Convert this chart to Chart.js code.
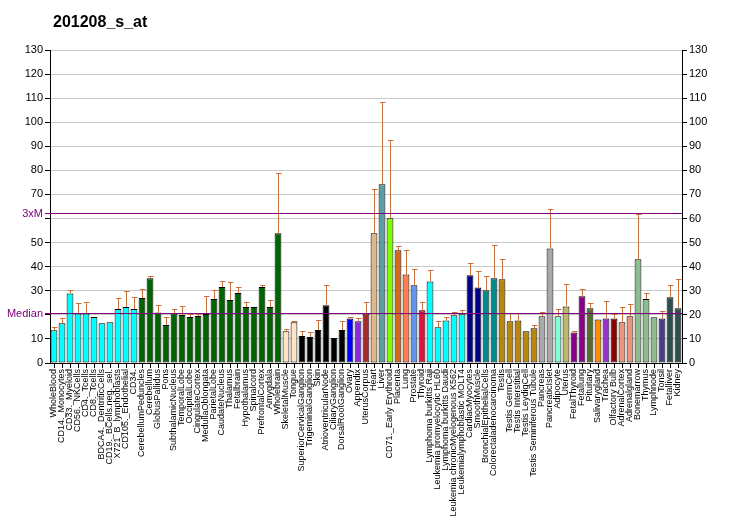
<!DOCTYPE html>
<html>
<head>
<meta charset="utf-8">
<script src="https://cdn.jsdelivr.net/npm/chart.js@4/dist/chart.umd.min.js"></script>
<style>
  body { margin: 0; background: #fff; }
  #wrap { width: 732px; height: 530px; }
</style>
</head>
<body>
<div id="wrap"><canvas id="grafik" width="732" height="530"></canvas></div>
<script>
// podaci sa slike
const naslov = '201208_s_at';

const kategorije = [
  'WholeBlood', 'CD14._Monocytes', 'CD33._Myeloid', 'CD56._NKCells', 'CD4._Tcells', 'CD8._Tcells',
  'BDCA4._DentriticCells', 'CD19._BCells.neg._sel.', 'X721_B_lymphoblasts', 'CD105._Endothelial', 'CD34.',
  'CerebellumPeduncles', 'Cerebellum', 'GlobusPallidus', 'Pons', 'SubthalamicNucleus', 'TemporalLobe',
  'OccipitalLobe', 'CingulateCortex', 'MedullaOblongata', 'ParietalLobe', 'CaudateNucleus', 'Thalamus',
  'Fetalbrain', 'Hypothalamus', 'Spinalcord', 'PrefrontalCortex', 'Amygdala', 'Wholebrain',
  'SkeletalMuscle', 'Tongue', 'SuperiorCervicalGanglion', 'TrigeminalGanglion', 'Skin',
  'AtrioventricularNode', 'CiliaryGanglion', 'DorsalRootGanglion', 'Ovary', 'Appendix', 'UterusCorpus',
  'Heart', 'Liver', 'CD71._Early Erythroid', 'Placenta', 'Lung', 'Prostate', 'Thyroid',
  'Lymphoma burkitts Raji', 'Leukemia promyelocytic HL60', 'Lymphoma burkitts Daudi',
  'Leukemia chronicMyelogenous K562', 'Leukemialymphoblastic MOLT4', 'CardiacMyocytes', 'SmoothMuscle',
  'BronchialEpithelialCells', 'Colorectaladenocarcinoma', 'Testis', 'Testis GermCell', 'Testis Interstitial',
  'Testis LeydigCell', 'Testis Seminiferous Tubule', 'Pancreas', 'PancreaticIslet', 'Adipocyte', 'Uterus',
  'FetalThyroid', 'Fetallung', 'Pituitary', 'Salivarygland', 'Trachea', 'Olfactory Bulb', 'AdrenalCortex',
  'Adrenalgland', 'Bonemarrow', 'Thymus', 'Lymphnode', 'Tonsil', 'Fetalliver', 'Kidney'
];

const vrednosti = [
  13.6, 16.5, 28.9, 20.6, 20.6, 19.1, 16.5, 16.9, 22.4, 23.3, 22.4,
  27.0, 35.2, 21.0, 15.8, 20.6, 19.9, 19.1, 19.5, 20.3, 26.6, 31.6, 26.2, 29.1, 23.3, 23.3, 31.6, 23.3, 53.9,
  13.2, 16.9, 11.2, 10.8, 13.7, 24.0, 10.4, 13.7, 18.5, 17.3, 20.6,
  53.9, 74.2, 60.1, 46.8, 36.8, 32.3, 21.9,
  33.9, 14.8, 17.7, 19.8, 20.2, 36.4, 31.4, 30.2, 35.2,
  34.8, 17.3, 17.7, 13.2, 14.4, 19.4, 47.6, 19.4, 23.5,
  12.7, 27.7, 22.7, 18.1, 18.5, 18.5, 16.9, 19.4, 43.1, 26.6, 19.0, 18.5, 27.3, 22.7
];

// gornji kraj greske (vrednost + sd)
const greskaGore = [
  15.0, 18.5, 30.2, 24.8, 25.2, 19.5, 16.7, 17.1, 26.9, 29.8, 27.3,
  30.6, 36.0, 24.0, 19.0, 22.3, 23.5, 20.3, 20.3, 27.7, 30.2, 33.9, 33.5, 31.4, 25.2, 23.5, 32.3, 26.0, 78.9,
  14.0, 17.3, 13.2, 12.7, 17.7, 32.3, 10.8, 17.3, 19.3, 18.5, 25.2,
  72.1, 108.3, 92.5, 48.4, 46.8, 38.9, 25.2,
  38.5, 17.3, 19.0, 21.0, 21.9, 41.4, 38.1, 36.0, 48.9,
  43.1, 20.6, 20.6, 13.3, 15.7, 21.0, 63.8, 22.3, 32.7,
  13.2, 30.6, 24.8, 18.2, 25.6, 20.2, 23.1, 24.4, 61.8, 28.9, 19.4, 21.5, 32.3, 34.8
];

const medijana = 20.7;
const triPutaM = 62.2;
const yTikovi = [0, 10, 20, 30, 40, 50, 60, 70, 80, 90, 100, 110, 120, 130];

// boje stubaca po grupama tkiva
const boje = [].concat(
  Array(11).fill('#00FFFF'),
  Array(18).fill('#006400'),
  Array(2).fill('#FFE4C4'),
  Array(6).fill('#000000'),
  ['#0000FF', '#8A2BE2', '#A52A2A', '#DEB887', '#5F9EA0', '#7FFF00', '#D2691E', '#FF7F50', '#6495ED', '#DC143C'],
  Array(5).fill('#00FFFF'),
  Array(2).fill('#00008B'),
  Array(2).fill('#008B8B'),
  Array(5).fill('#B8860B'),
  Array(2).fill('#A9A9A9'),
  ['#7FFFD4', '#BDB76B', '#8B008B', '#8B008B', '#556B2F', '#FF8C00', '#9932CC', '#8B0000',
   '#E9967A', '#E9967A', '#8FBC8F', '#8FBC8F', '#8FBC8F', '#483D8B', '#2F4F4F', '#2F4F4F']
);

const ljubicasta = '#800080';
const fontOsa = '"Liberation Sans", Arial, sans-serif';

// greske, linije medijane i naslov
const dodatak = {
  id: 'dodatak',
  afterDatasetsDraw(chart) {
    const ctx = chart.ctx;
    const xs = chart.scales.x;
    const ys = chart.scales.y;
    const area = chart.chartArea;

    ctx.save();
    ctx.strokeStyle = '#C8703A';
    ctx.lineWidth = 1;
    for (let i = 0; i < vrednosti.length; i++) {
      const x = Math.round(xs.getPixelForValue(i)) + 0.5;
      const y0 = ys.getPixelForValue(vrednosti[i]);
      const y1 = Math.round(ys.getPixelForValue(greskaGore[i])) + 0.5;
      if (y0 - y1 < 0.8) continue;
      ctx.beginPath();
      ctx.moveTo(x, y0);
      ctx.lineTo(x, y1);
      ctx.moveTo(x - 2.5, y1);
      ctx.lineTo(x + 3, y1);
      ctx.stroke();
    }

    // 3xM i Median
    ctx.strokeStyle = ljubicasta;
    ctx.fillStyle = ljubicasta;
    ctx.font = '11px ' + fontOsa;
    ctx.textAlign = 'right';
    ctx.textBaseline = 'middle';
    [[triPutaM, '3xM'], [medijana, 'Median']].forEach(([v, tekst]) => {
      const y = Math.round(ys.getPixelForValue(v)) + 0.5;
      ctx.beginPath();
      ctx.moveTo(area.left - 5, y);
      ctx.lineTo(area.right, y);
      ctx.stroke();
      ctx.fillText(tekst, area.left - 7, y);
    });
    ctx.restore();
  },
  afterDraw(chart) {
    const ctx = chart.ctx;
    ctx.save();
    ctx.fillStyle = '#000';
    ctx.font = 'bold 16px ' + fontOsa;
    ctx.textAlign = 'left';
    ctx.textBaseline = 'alphabetic';
    ctx.fillText(naslov, 53, 27);
    ctx.restore();
  }
};

new Chart(document.getElementById('grafik').getContext('2d'), {
  type: 'bar',
  data: {
    labels: kategorije,
    datasets: [{
      data: vrednosti,
      backgroundColor: boje,
      borderColor: '#000000',
      borderWidth: 1,
      borderSkipped: false,
      barPercentage: 0.85,
      categoryPercentage: 1.0
    }]
  },
  options: {
    responsive: false,
    animation: false,
    layout: { padding: { top: 50, left: 0, right: 0, bottom: 0 } },
    plugins: {
      legend: { display: false },
      tooltip: { enabled: false }
    },
    scales: {
      x: {
        offset: true,
        grid: { display: true, drawOnChartArea: false, offset: false, tickLength: 5, color: '#000' },
        border: { display: true, color: '#000' },
        ticks: {
          autoSkip: false, minRotation: 90, maxRotation: 90, padding: 1,
          color: '#000', font: { family: fontOsa, size: 9 }
        },
        afterFit(s) { s.height = 167; }
      },
      y: {
        position: 'left',
        min: 0, max: 130,
        afterBuildTicks(s) { s.ticks = yTikovi.map(v => ({ value: v })); },
        grid: { color: '#C8C8C8', tickColor: '#000', tickLength: 5 },
        border: { color: '#000' },
        ticks: {
          color: '#000', padding: 2, font: { family: fontOsa, size: 11 },
          callback: v => (v === 60 || v === 20) ? '' : v
        },
        afterFit(s) { s.width = 50; }
      },
      y2: {
        position: 'right',
        min: 0, max: 130,
        afterBuildTicks(s) { s.ticks = yTikovi.map(v => ({ value: v })); },
        grid: { drawOnChartArea: false, tickColor: '#000', tickLength: 5 },
        border: { color: '#000' },
        ticks: { color: '#000', padding: 2, font: { family: fontOsa, size: 11 } },
        afterFit(s) { s.width = 50; }
      }
    }
  },
  plugins: [dodatak]
});
</script>
</body>
</html>
